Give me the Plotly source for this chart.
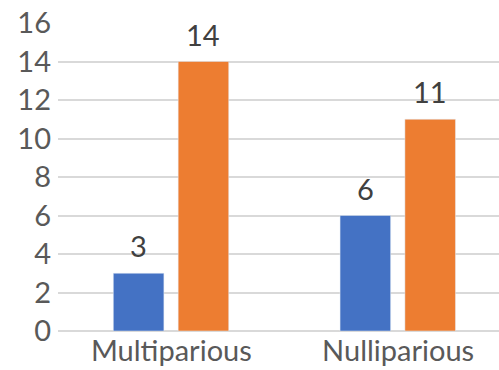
import plotly.graph_objects as go

categories = ["Multiparious", "Nulliparious"]
series_a = [3, 6]
series_b = [14, 11]
y_ticks = [0, 2, 4, 6, 8, 10, 12, 14, 16]

BLUE = "#4472C4"
ORANGE = "#ED7D31"
TEXT = "#595959"
LABEL = "#404040"
FONT = "Lato"
BAR_W = 0.223
OFFSETS = [-0.256, 0.030]

fig = go.Figure()
annotations = []
for values, color, off in [(series_a, BLUE, OFFSETS[0]), (series_b, ORANGE, OFFSETS[1])]:
    fig.add_trace(go.Bar(
        x=categories, y=values, marker_color=color, width=BAR_W, offset=off,
        showlegend=False,
    ))
    # value labels floating above each bar
    for i, v in enumerate(values):
        annotations.append(dict(
            x=i + off + BAR_W / 2, y=v, xref="x", yref="y",
            text=str(v), showarrow=False, yanchor="bottom", yshift=8,
            font=dict(family=FONT, size=29, color=LABEL),
        ))

fig.update_layout(
    width=499, height=370,
    margin=dict(l=58, r=0, t=23, b=39),
    paper_bgcolor="white", plot_bgcolor="white",
    barmode="overlay",
    font=dict(family=FONT, size=29, color=TEXT),
    annotations=annotations,
    xaxis=dict(
        range=[-0.5, 1.445], showgrid=False, zeroline=False,
        showline=False, ticks="", tickfont=dict(size=29, color=TEXT),
    ),
    yaxis=dict(
        range=[0, 16], tickvals=y_ticks, showgrid=True,
        gridcolor="#D9D9D9", gridwidth=1.5, zeroline=True,
        zerolinecolor="#D9D9D9", zerolinewidth=1.5, showline=False,
        ticks="", ticklabelstandoff=6, tickfont=dict(size=29, color=TEXT),
    ),
)

fig.write_html("out.html")
